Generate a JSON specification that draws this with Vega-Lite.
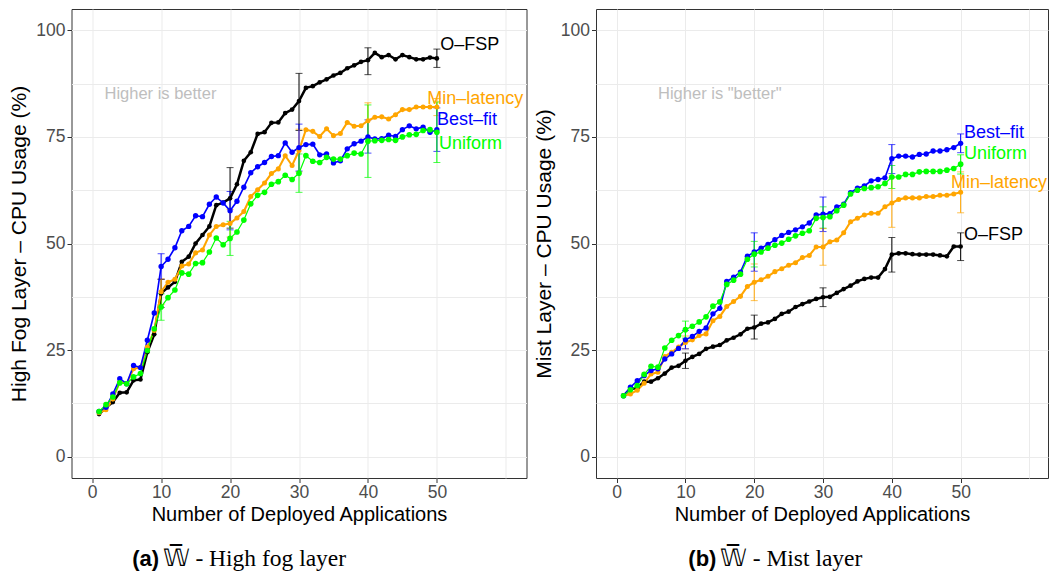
{
"$schema": "https://vega.github.io/schema/vega-lite/v6.json",
"background": "white",
"padding": {"left": 7.5, "top": 8, "right": 0, "bottom": 0},
"autosize": {"type": "pad"},
"config": {"font": "Liberation Sans", "view": {"stroke": "#333333", "strokeWidth": 1}, "concat": {"spacing": 69.5}},
"bounds": "flush",
"spacing": 69.5,
"datasets": {
"fog": [
{"a":"O","x":1,"v":10.0},{"a":"O","x":2,"v":11.5},{"a":"O","x":3,"v":12.8},{"a":"O","x":4,"v":15.0},{"a":"O","x":5,"v":15.1},{"a":"O","x":6,"v":17.9},{"a":"O","x":7,"v":18.1},{"a":"O","x":8,"v":24.5},{"a":"O","x":9,"v":28.7},{"a":"O","x":10,"v":38.3},
{"a":"O","x":11,"v":39.7},{"a":"O","x":12,"v":41.0},{"a":"O","x":13,"v":45.7},{"a":"O","x":14,"v":46.9},{"a":"O","x":15,"v":50.0},{"a":"O","x":16,"v":52.0},{"a":"O","x":17,"v":54.0},{"a":"O","x":18,"v":59.0},{"a":"O","x":19,"v":59.6},{"a":"O","x":20,"v":60.6},
{"a":"O","x":21,"v":63.9},{"a":"O","x":22,"v":69.4},{"a":"O","x":23,"v":71.4},{"a":"O","x":24,"v":75.7},{"a":"O","x":25,"v":76.1},{"a":"O","x":26,"v":78.3},{"a":"O","x":27,"v":78.4},{"a":"O","x":28,"v":80.6},{"a":"O","x":29,"v":81.4},{"a":"O","x":30,"v":83.4},
{"a":"O","x":31,"v":86.5},{"a":"O","x":32,"v":86.9},{"a":"O","x":33,"v":87.8},{"a":"O","x":34,"v":88.5},{"a":"O","x":35,"v":89.4},{"a":"O","x":36,"v":90.0},{"a":"O","x":37,"v":91.1},{"a":"O","x":38,"v":91.8},{"a":"O","x":39,"v":92.6},{"a":"O","x":40,"v":93.0},
{"a":"O","x":41,"v":94.7},{"a":"O","x":42,"v":93.7},{"a":"O","x":43,"v":94.2},{"a":"O","x":44,"v":93.2},{"a":"O","x":45,"v":94.2},{"a":"O","x":46,"v":93.7},{"a":"O","x":47,"v":93.2},{"a":"O","x":48,"v":93.2},{"a":"O","x":49,"v":93.6},{"a":"O","x":50,"v":93.4},
{"a":"M","x":1,"v":10.3},{"a":"M","x":2,"v":11.0},{"a":"M","x":3,"v":13.5},{"a":"M","x":4,"v":17.5},{"a":"M","x":5,"v":17.1},{"a":"M","x":6,"v":20.6},{"a":"M","x":7,"v":20.9},{"a":"M","x":8,"v":25.7},{"a":"M","x":9,"v":29.6},{"a":"M","x":10,"v":38.7},
{"a":"M","x":11,"v":40.9},{"a":"M","x":12,"v":41.6},{"a":"M","x":13,"v":44.7},{"a":"M","x":14,"v":45.2},{"a":"M","x":15,"v":47.8},{"a":"M","x":16,"v":48.5},{"a":"M","x":17,"v":52.0},{"a":"M","x":18,"v":54.0},{"a":"M","x":19,"v":54.4},{"a":"M","x":20,"v":54.7},
{"a":"M","x":21,"v":56.0},{"a":"M","x":22,"v":57.5},{"a":"M","x":23,"v":61.0},{"a":"M","x":24,"v":62.6},{"a":"M","x":25,"v":64.2},{"a":"M","x":26,"v":66.4},{"a":"M","x":27,"v":67.5},{"a":"M","x":28,"v":70.6},{"a":"M","x":29,"v":68.3},{"a":"M","x":30,"v":71.8},
{"a":"M","x":31,"v":76.7},{"a":"M","x":32,"v":76.3},{"a":"M","x":33,"v":75.1},{"a":"M","x":34,"v":76.9},{"a":"M","x":35,"v":75.3},{"a":"M","x":36,"v":75.8},{"a":"M","x":37,"v":78.4},{"a":"M","x":38,"v":77.5},{"a":"M","x":39,"v":77.6},{"a":"M","x":40,"v":78.8},
{"a":"M","x":41,"v":79.6},{"a":"M","x":42,"v":79.7},{"a":"M","x":43,"v":79.2},{"a":"M","x":44,"v":80.2},{"a":"M","x":45,"v":81.4},{"a":"M","x":46,"v":81.4},{"a":"M","x":47,"v":82.0},{"a":"M","x":48,"v":82.0},{"a":"M","x":49,"v":82.0},{"a":"M","x":50,"v":82.0},
{"a":"B","x":1,"v":10.6},{"a":"B","x":2,"v":11.6},{"a":"B","x":3,"v":14.7},{"a":"B","x":4,"v":18.3},{"a":"B","x":5,"v":17.1},{"a":"B","x":6,"v":21.4},{"a":"B","x":7,"v":20.9},{"a":"B","x":8,"v":27.3},{"a":"B","x":9,"v":33.7},{"a":"B","x":10,"v":44.6},
{"a":"B","x":11,"v":46.3},{"a":"B","x":12,"v":49.0},{"a":"B","x":13,"v":53.0},{"a":"B","x":14,"v":54.0},{"a":"B","x":15,"v":56.5},{"a":"B","x":16,"v":56.3},{"a":"B","x":17,"v":59.2},{"a":"B","x":18,"v":60.9},{"a":"B","x":19,"v":59.5},{"a":"B","x":20,"v":57.7},
{"a":"B","x":21,"v":59.9},{"a":"B","x":22,"v":63.2},{"a":"B","x":23,"v":66.6},{"a":"B","x":24,"v":68.0},{"a":"B","x":25,"v":69.0},{"a":"B","x":26,"v":70.4},{"a":"B","x":27,"v":70.6},{"a":"B","x":28,"v":73.6},{"a":"B","x":29,"v":71.4},{"a":"B","x":30,"v":72.5},
{"a":"B","x":31,"v":73.2},{"a":"B","x":32,"v":73.3},{"a":"B","x":33,"v":70.8},{"a":"B","x":34,"v":71.0},{"a":"B","x":35,"v":68.9},{"a":"B","x":36,"v":69.4},{"a":"B","x":37,"v":72.2},{"a":"B","x":38,"v":73.4},{"a":"B","x":39,"v":74.0},{"a":"B","x":40,"v":75.0},
{"a":"B","x":41,"v":74.5},{"a":"B","x":42,"v":74.6},{"a":"B","x":43,"v":75.4},{"a":"B","x":44,"v":75.1},{"a":"B","x":45,"v":76.7},{"a":"B","x":46,"v":77.6},{"a":"B","x":47,"v":76.9},{"a":"B","x":48,"v":77.3},{"a":"B","x":49,"v":76.1},{"a":"B","x":50,"v":76.7},
{"a":"U","x":1,"v":10.6},{"a":"U","x":2,"v":12.2},{"a":"U","x":3,"v":14.0},{"a":"U","x":4,"v":17.3},{"a":"U","x":5,"v":17.1},{"a":"U","x":6,"v":18.7},{"a":"U","x":7,"v":19.5},{"a":"U","x":8,"v":24.9},{"a":"U","x":9,"v":30.0},{"a":"U","x":10,"v":35.1},
{"a":"U","x":11,"v":37.3},{"a":"U","x":12,"v":39.1},{"a":"U","x":13,"v":43.1},{"a":"U","x":14,"v":42.8},{"a":"U","x":15,"v":45.3},{"a":"U","x":16,"v":45.5},{"a":"U","x":17,"v":48.0},{"a":"U","x":18,"v":51.3},{"a":"U","x":19,"v":49.7},{"a":"U","x":20,"v":51.2},
{"a":"U","x":21,"v":52.7},{"a":"U","x":22,"v":55.5},{"a":"U","x":23,"v":59.3},{"a":"U","x":24,"v":61.3},{"a":"U","x":25,"v":62.0},{"a":"U","x":26,"v":63.9},{"a":"U","x":27,"v":64.5},{"a":"U","x":28,"v":66.0},{"a":"U","x":29,"v":65.0},{"a":"U","x":30,"v":66.5},
{"a":"U","x":31,"v":70.6},{"a":"U","x":32,"v":69.3},{"a":"U","x":33,"v":69.0},{"a":"U","x":34,"v":70.2},{"a":"U","x":35,"v":69.8},{"a":"U","x":36,"v":69.8},{"a":"U","x":37,"v":70.6},{"a":"U","x":38,"v":71.2},{"a":"U","x":39,"v":71.0},{"a":"U","x":40,"v":74.0},
{"a":"U","x":41,"v":74.1},{"a":"U","x":42,"v":74.2},{"a":"U","x":43,"v":74.4},{"a":"U","x":44,"v":74.2},{"a":"U","x":45,"v":75.0},{"a":"U","x":46,"v":75.5},{"a":"U","x":47,"v":75.6},{"a":"U","x":48,"v":76.5},{"a":"U","x":49,"v":76.7},{"a":"U","x":50,"v":76.1}
],
"mist": [
{"a":"O","x":1,"v":14.3},{"a":"O","x":2,"v":15.9},{"a":"O","x":3,"v":16.1},{"a":"O","x":4,"v":17.6},{"a":"O","x":5,"v":17.6},{"a":"O","x":6,"v":18.4},{"a":"O","x":7,"v":19.5},{"a":"O","x":8,"v":20.9},{"a":"O","x":9,"v":21.3},{"a":"O","x":10,"v":22.5},
{"a":"O","x":11,"v":23.4},{"a":"O","x":12,"v":24.1},{"a":"O","x":13,"v":25.3},{"a":"O","x":14,"v":25.8},{"a":"O","x":15,"v":26.2},{"a":"O","x":16,"v":27.3},{"a":"O","x":17,"v":27.9},{"a":"O","x":18,"v":28.7},{"a":"O","x":19,"v":30.0},{"a":"O","x":20,"v":30.3},
{"a":"O","x":21,"v":31.2},{"a":"O","x":22,"v":31.5},{"a":"O","x":23,"v":32.3},{"a":"O","x":24,"v":33.5},{"a":"O","x":25,"v":34.0},{"a":"O","x":26,"v":35.1},{"a":"O","x":27,"v":35.8},{"a":"O","x":28,"v":36.4},{"a":"O","x":29,"v":37.0},{"a":"O","x":30,"v":37.4},
{"a":"O","x":31,"v":37.5},{"a":"O","x":32,"v":38.4},{"a":"O","x":33,"v":39.3},{"a":"O","x":34,"v":40.1},{"a":"O","x":35,"v":41.1},{"a":"O","x":36,"v":41.7},{"a":"O","x":37,"v":42.0},{"a":"O","x":38,"v":42.0},{"a":"O","x":39,"v":44.0},{"a":"O","x":40,"v":47.4},
{"a":"O","x":41,"v":47.7},{"a":"O","x":42,"v":47.7},{"a":"O","x":43,"v":47.5},{"a":"O","x":44,"v":47.4},{"a":"O","x":45,"v":47.4},{"a":"O","x":46,"v":47.4},{"a":"O","x":47,"v":47.2},{"a":"O","x":48,"v":47.0},{"a":"O","x":49,"v":49.3},{"a":"O","x":50,"v":49.3},
{"a":"M","x":1,"v":14.3},{"a":"M","x":2,"v":14.7},{"a":"M","x":3,"v":15.6},{"a":"M","x":4,"v":17.2},{"a":"M","x":5,"v":19.4},{"a":"M","x":6,"v":19.8},{"a":"M","x":7,"v":23.5},{"a":"M","x":8,"v":24.5},{"a":"M","x":9,"v":25.7},{"a":"M","x":10,"v":26.8},
{"a":"M","x":11,"v":27.4},{"a":"M","x":12,"v":28.4},{"a":"M","x":13,"v":28.8},{"a":"M","x":14,"v":31.9},{"a":"M","x":15,"v":32.9},{"a":"M","x":16,"v":35.2},{"a":"M","x":17,"v":36.4},{"a":"M","x":18,"v":37.6},{"a":"M","x":19,"v":39.9},{"a":"M","x":20,"v":40.9},
{"a":"M","x":21,"v":41.5},{"a":"M","x":22,"v":42.3},{"a":"M","x":23,"v":43.4},{"a":"M","x":24,"v":44.1},{"a":"M","x":25,"v":44.9},{"a":"M","x":26,"v":45.5},{"a":"M","x":27,"v":46.7},{"a":"M","x":28,"v":47.2},{"a":"M","x":29,"v":49.2},{"a":"M","x":30,"v":49.2},
{"a":"M","x":31,"v":50.4},{"a":"M","x":32,"v":50.8},{"a":"M","x":33,"v":52.5},{"a":"M","x":34,"v":55.1},{"a":"M","x":35,"v":55.9},{"a":"M","x":36,"v":56.7},{"a":"M","x":37,"v":57.1},{"a":"M","x":38,"v":57.1},{"a":"M","x":39,"v":58.6},{"a":"M","x":40,"v":59.5},
{"a":"M","x":41,"v":60.3},{"a":"M","x":42,"v":60.7},{"a":"M","x":43,"v":60.7},{"a":"M","x":44,"v":60.7},{"a":"M","x":45,"v":61.0},{"a":"M","x":46,"v":61.0},{"a":"M","x":47,"v":61.3},{"a":"M","x":48,"v":61.3},{"a":"M","x":49,"v":61.6},{"a":"M","x":50,"v":62.0},
{"a":"B","x":1,"v":14.3},{"a":"B","x":2,"v":16.3},{"a":"B","x":3,"v":17.8},{"a":"B","x":4,"v":19.0},{"a":"B","x":5,"v":20.2},{"a":"B","x":6,"v":20.6},{"a":"B","x":7,"v":22.9},{"a":"B","x":8,"v":24.1},{"a":"B","x":9,"v":25.4},{"a":"B","x":10,"v":27.4},
{"a":"B","x":11,"v":28.2},{"a":"B","x":12,"v":29.4},{"a":"B","x":13,"v":30.2},{"a":"B","x":14,"v":33.5},{"a":"B","x":15,"v":34.8},{"a":"B","x":16,"v":41.1},{"a":"B","x":17,"v":42.1},{"a":"B","x":18,"v":43.3},{"a":"B","x":19,"v":47.0},{"a":"B","x":20,"v":48.0},
{"a":"B","x":21,"v":48.9},{"a":"B","x":22,"v":49.8},{"a":"B","x":23,"v":50.9},{"a":"B","x":24,"v":51.9},{"a":"B","x":25,"v":52.6},{"a":"B","x":26,"v":53.2},{"a":"B","x":27,"v":53.9},{"a":"B","x":28,"v":54.8},{"a":"B","x":29,"v":56.7},{"a":"B","x":30,"v":56.9},
{"a":"B","x":31,"v":57.0},{"a":"B","x":32,"v":58.6},{"a":"B","x":33,"v":59.2},{"a":"B","x":34,"v":61.9},{"a":"B","x":35,"v":63.0},{"a":"B","x":36,"v":63.5},{"a":"B","x":37,"v":64.7},{"a":"B","x":38,"v":65.0},{"a":"B","x":39,"v":65.4},{"a":"B","x":40,"v":69.9},
{"a":"B","x":41,"v":70.5},{"a":"B","x":42,"v":70.5},{"a":"B","x":43,"v":70.3},{"a":"B","x":44,"v":70.9},{"a":"B","x":45,"v":71.0},{"a":"B","x":46,"v":71.7},{"a":"B","x":47,"v":71.7},{"a":"B","x":48,"v":72.0},{"a":"B","x":49,"v":72.5},{"a":"B","x":50,"v":73.5},
{"a":"U","x":1,"v":14.3},{"a":"U","x":2,"v":15.7},{"a":"U","x":3,"v":16.7},{"a":"U","x":4,"v":19.3},{"a":"U","x":5,"v":21.2},{"a":"U","x":6,"v":21.0},{"a":"U","x":7,"v":25.5},{"a":"U","x":8,"v":27.3},{"a":"U","x":9,"v":28.4},{"a":"U","x":10,"v":29.8},
{"a":"U","x":11,"v":30.6},{"a":"U","x":12,"v":31.6},{"a":"U","x":13,"v":32.8},{"a":"U","x":14,"v":35.3},{"a":"U","x":15,"v":36.3},{"a":"U","x":16,"v":40.4},{"a":"U","x":17,"v":41.4},{"a":"U","x":18,"v":42.8},{"a":"U","x":19,"v":46.3},{"a":"U","x":20,"v":47.5},
{"a":"U","x":21,"v":48.0},{"a":"U","x":22,"v":48.9},{"a":"U","x":23,"v":49.6},{"a":"U","x":24,"v":50.1},{"a":"U","x":25,"v":51.0},{"a":"U","x":26,"v":51.8},{"a":"U","x":27,"v":52.4},{"a":"U","x":28,"v":53.0},{"a":"U","x":29,"v":55.9},{"a":"U","x":30,"v":56.1},
{"a":"U","x":31,"v":56.3},{"a":"U","x":32,"v":57.7},{"a":"U","x":33,"v":59.0},{"a":"U","x":34,"v":61.6},{"a":"U","x":35,"v":62.5},{"a":"U","x":36,"v":62.9},{"a":"U","x":37,"v":63.1},{"a":"U","x":38,"v":63.3},{"a":"U","x":39,"v":64.1},{"a":"U","x":40,"v":65.6},
{"a":"U","x":41,"v":65.6},{"a":"U","x":42,"v":66.2},{"a":"U","x":43,"v":66.2},{"a":"U","x":44,"v":66.8},{"a":"U","x":45,"v":66.9},{"a":"U","x":46,"v":66.9},{"a":"U","x":47,"v":66.9},{"a":"U","x":48,"v":67.2},{"a":"U","x":49,"v":67.6},{"a":"U","x":50,"v":68.6}
],
"fogErr": [
{"a":"O","x":10,"lo":35.0,"hi":41.6},{"a":"O","x":20,"lo":53.6,"hi":67.8},{"a":"O","x":30,"lo":76.5,"hi":89.9},{"a":"O","x":40,"lo":89.6,"hi":95.9},{"a":"O","x":50,"lo":91.3,"hi":95.6},
{"a":"M","x":10,"lo":35.7,"hi":41.7},{"a":"M","x":20,"lo":51.5,"hi":58.0},{"a":"M","x":30,"lo":66.8,"hi":76.8},{"a":"M","x":40,"lo":74.5,"hi":83.0},{"a":"M","x":50,"lo":80.0,"hi":84.0},
{"a":"B","x":10,"lo":41.6,"hi":47.6},{"a":"B","x":20,"lo":53.2,"hi":62.2},{"a":"B","x":30,"lo":67.0,"hi":78.0},{"a":"B","x":40,"lo":71.2,"hi":79.0},{"a":"B","x":50,"lo":71.6,"hi":81.8},
{"a":"U","x":10,"lo":32.0,"hi":38.2},{"a":"U","x":20,"lo":47.2,"hi":55.2},{"a":"U","x":30,"lo":62.0,"hi":71.0},{"a":"U","x":40,"lo":65.5,"hi":82.5},{"a":"U","x":50,"lo":69.0,"hi":83.2}
],
"mistErr": [
{"a":"O","x":10,"lo":20.7,"hi":24.3},{"a":"O","x":20,"lo":27.6,"hi":33.2},{"a":"O","x":30,"lo":35.2,"hi":39.6},{"a":"O","x":40,"lo":43.3,"hi":51.4},{"a":"O","x":50,"lo":46.0,"hi":52.5},
{"a":"M","x":10,"lo":25.3,"hi":28.3},{"a":"M","x":20,"lo":36.6,"hi":45.2},{"a":"M","x":30,"lo":44.9,"hi":53.5},{"a":"M","x":40,"lo":53.8,"hi":65.4},{"a":"M","x":50,"lo":57.2,"hi":66.8},
{"a":"B","x":10,"lo":25.3,"hi":29.6},{"a":"B","x":20,"lo":43.5,"hi":52.5},{"a":"B","x":30,"lo":52.8,"hi":60.9},{"a":"B","x":40,"lo":66.4,"hi":73.2},{"a":"B","x":50,"lo":71.3,"hi":75.7},
{"a":"U","x":10,"lo":27.8,"hi":31.8},{"a":"U","x":20,"lo":44.5,"hi":50.5},{"a":"U","x":30,"lo":53.6,"hi":58.6},{"a":"U","x":40,"lo":62.9,"hi":68.3},{"a":"U","x":50,"lo":66.3,"hi":70.8}
],
"fogLab": [
{"a":"O","t":"O–FSP","x":50.5,"y":96.5},{"a":"M","t":"Min–latency","x":48.6,"y":84.0},{"a":"B","t":"Best–fit","x":50.0,"y":79.0},{"a":"U","t":"Uniform","x":50.3,"y":73.4}
],
"mistLab": [
{"a":"B","t":"Best–fit","x":50.5,"y":75.8},{"a":"U","t":"Uniform","x":50.5,"y":70.9},{"a":"M","t":"Min–latency","x":48.6,"y":64.1},{"a":"O","t":"O–FSP","x":50.5,"y":51.9}
],
"fogNote": [{"x":9.9,"y":85,"t":"Higher is better","c1":"(a)","c2":"𝕎̅ - High fog layer","cx1":9.7,"cx2":10.2,"cy":-23.9}],
"mistNote": [{"x":15.0,"y":85,"t":"Higher is \"better\"","c1":"(b)","c2":"𝕎̅ - Mist layer","cx1":14.5,"cx2":15.0,"cy":-23.9}]
},
"hconcat": [
{
"width": 455, "height": 469,
"layer": [
{"data": {"name": "fogErr"},
 "mark": {"type": "errorbar", "ticks": {"size": 7, "thickness": 1}, "rule": {"strokeWidth": 1}},
 "encoding": {
  "x": {"field": "x", "type": "quantitative", "scale": {"domain": [-3, 63], "nice": false, "zero": false},
   "axis": {"title": "Number of Deployed Applications", "values": [0,5,10,15,20,25,30,35,40,45,50,55,60],
    "labelExpr": "(datum.value % 10 === 0 && datum.value <= 50) ? datum.label : ''",
    "tickOpacity": {"condition": {"test": "datum.value % 10 !== 0 || datum.value > 50", "value": 0}, "value": 1},
    "grid": true, "gridColor": "#ebebeb", "gridWidth": 1, "domain": false, "tickColor": "#333333", "tickSize": 4.5,
    "labelColor": "#4d4d4d", "labelFontSize": 17.5, "labelPadding": 1, "titleFontSize": 20, "titleFontWeight": "normal", "titleColor": "black", "titlePadding": 3}},
  "y": {"field": "lo", "type": "quantitative", "scale": {"domain": [-5, 105], "nice": false, "zero": false},
   "axis": {"title": "High Fog Layer – CPU Usage (%)", "values": [0,12.5,25,37.5,50,62.5,75,87.5,100],
    "labelExpr": "(datum.value % 25 === 0) ? datum.label : ''",
    "tickOpacity": {"condition": {"test": "datum.value % 25 !== 0", "value": 0}, "value": 1},
    "grid": true, "gridColor": "#ebebeb", "gridWidth": 1, "domain": false, "tickColor": "#333333", "tickSize": 4.5,
    "labelColor": "#4d4d4d", "labelFontSize": 17.5, "labelPadding": 2, "titleFontSize": 21, "titleFontWeight": "normal", "titleColor": "black", "titlePadding": 6}},
  "y2": {"field": "hi"},
  "color": {"field": "a", "type": "nominal", "scale": {"domain": ["O","M","B","U"], "range": ["#000000","#FFA500","#0000FF","#00FF00"]}, "legend": null}
 }},
{"data": {"name": "fog"},
 "mark": {"type": "line"},
 "encoding": {
  "x": {"field": "x", "type": "quantitative"},
  "y": {"field": "v", "type": "quantitative"},
  "color": {"field": "a", "type": "nominal", "legend": null},
  "strokeWidth": {"field": "a", "type": "nominal", "scale": {"domain": ["O","M","B","U"], "range": [2.5,1.2,1.2,1.2]}, "legend": null}
 }},
{"data": {"name": "fog"},
 "mark": {"type": "circle", "opacity": 1},
 "encoding": {
  "x": {"field": "x", "type": "quantitative"},
  "y": {"field": "v", "type": "quantitative"},
  "color": {"field": "a", "type": "nominal", "legend": null},
  "size": {"field": "a", "type": "nominal", "scale": {"domain": ["O","M","B","U"], "range": [22,32,32,32]}, "legend": null}
 }},
{"data": {"name": "fogLab"},
 "mark": {"type": "text", "align": "left", "baseline": "middle", "fontSize": 18},
 "encoding": {
  "x": {"field": "x", "type": "quantitative"},
  "y": {"field": "y", "type": "quantitative"},
  "text": {"field": "t"},
  "color": {"field": "a", "type": "nominal", "legend": null}
 }},
{"data": {"name": "fogNote"},
 "mark": {"type": "text", "align": "center", "baseline": "middle", "fontSize": 16.5, "color": "#bebebe"},
 "encoding": {"x": {"field": "x", "type": "quantitative"}, "y": {"field": "y", "type": "quantitative"}, "text": {"field": "t"}}},
{"data": {"name": "fogNote"},
 "mark": {"type": "text", "align": "right", "baseline": "middle", "fontSize": 22, "font": "Liberation Sans", "fontWeight": "bold", "color": "black"},
 "encoding": {"x": {"field": "cx1", "type": "quantitative"}, "y": {"field": "cy", "type": "quantitative"}, "text": {"field": "c1"}}},
{"data": {"name": "fogNote"},
 "mark": {"type": "text", "align": "left", "baseline": "middle", "fontSize": 23.5, "font": "Liberation Serif", "color": "black"},
 "encoding": {"x": {"field": "cx2", "type": "quantitative"}, "y": {"field": "cy", "type": "quantitative"}, "text": {"field": "c2"}}}
]
},
{
"width": 452, "height": 469,
"layer": [
{"data": {"name": "mistErr"},
 "mark": {"type": "errorbar", "ticks": {"size": 7, "thickness": 1}, "rule": {"strokeWidth": 1}},
 "encoding": {
  "x": {"field": "x", "type": "quantitative", "scale": {"domain": [-3, 62.7], "nice": false, "zero": false},
   "axis": {"title": "Number of Deployed Applications", "values": [0,5,10,15,20,25,30,35,40,45,50,55,60],
    "labelExpr": "(datum.value % 10 === 0 && datum.value <= 50) ? datum.label : ''",
    "tickOpacity": {"condition": {"test": "datum.value % 10 !== 0 || datum.value > 50", "value": 0}, "value": 1},
    "grid": true, "gridColor": "#ebebeb", "gridWidth": 1, "domain": false, "tickColor": "#333333", "tickSize": 4.5,
    "labelColor": "#4d4d4d", "labelFontSize": 17.5, "labelPadding": 1, "titleFontSize": 20, "titleFontWeight": "normal", "titleColor": "black", "titlePadding": 3}},
  "y": {"field": "lo", "type": "quantitative", "scale": {"domain": [-5, 105], "nice": false, "zero": false},
   "axis": {"title": "Mist Layer – CPU Usage (%)", "values": [0,12.5,25,37.5,50,62.5,75,87.5,100],
    "labelExpr": "(datum.value % 25 === 0) ? datum.label : ''",
    "tickOpacity": {"condition": {"test": "datum.value % 25 !== 0", "value": 0}, "value": 1},
    "grid": true, "gridColor": "#ebebeb", "gridWidth": 1, "domain": false, "tickColor": "#333333", "tickSize": 4.5,
    "labelColor": "#4d4d4d", "labelFontSize": 17.5, "labelPadding": 2, "titleFontSize": 21, "titleFontWeight": "normal", "titleColor": "black", "titlePadding": 6}},
  "y2": {"field": "hi"},
  "color": {"field": "a", "type": "nominal", "scale": {"domain": ["O","M","B","U"], "range": ["#000000","#FFA500","#0000FF","#00FF00"]}, "legend": null}
 }},
{"data": {"name": "mist"},
 "mark": {"type": "line"},
 "encoding": {
  "x": {"field": "x", "type": "quantitative"},
  "y": {"field": "v", "type": "quantitative"},
  "color": {"field": "a", "type": "nominal", "legend": null},
  "strokeWidth": {"field": "a", "type": "nominal", "scale": {"domain": ["O","M","B","U"], "range": [2.5,1.2,1.2,1.2]}, "legend": null}
 }},
{"data": {"name": "mist"},
 "mark": {"type": "circle", "opacity": 1},
 "encoding": {
  "x": {"field": "x", "type": "quantitative"},
  "y": {"field": "v", "type": "quantitative"},
  "color": {"field": "a", "type": "nominal", "legend": null},
  "size": {"field": "a", "type": "nominal", "scale": {"domain": ["O","M","B","U"], "range": [22,32,32,32]}, "legend": null}
 }},
{"data": {"name": "mistLab"},
 "mark": {"type": "text", "align": "left", "baseline": "middle", "fontSize": 18},
 "encoding": {
  "x": {"field": "x", "type": "quantitative"},
  "y": {"field": "y", "type": "quantitative"},
  "text": {"field": "t"},
  "color": {"field": "a", "type": "nominal", "legend": null}
 }},
{"data": {"name": "mistNote"},
 "mark": {"type": "text", "align": "center", "baseline": "middle", "fontSize": 16.5, "color": "#bebebe"},
 "encoding": {"x": {"field": "x", "type": "quantitative"}, "y": {"field": "y", "type": "quantitative"}, "text": {"field": "t"}}},
{"data": {"name": "mistNote"},
 "mark": {"type": "text", "align": "right", "baseline": "middle", "fontSize": 22, "font": "Liberation Sans", "fontWeight": "bold", "color": "black"},
 "encoding": {"x": {"field": "cx1", "type": "quantitative"}, "y": {"field": "cy", "type": "quantitative"}, "text": {"field": "c1"}}},
{"data": {"name": "mistNote"},
 "mark": {"type": "text", "align": "left", "baseline": "middle", "fontSize": 23.5, "font": "Liberation Serif", "color": "black"},
 "encoding": {"x": {"field": "cx2", "type": "quantitative"}, "y": {"field": "cy", "type": "quantitative"}, "text": {"field": "c2"}}}
]
}
]
}
